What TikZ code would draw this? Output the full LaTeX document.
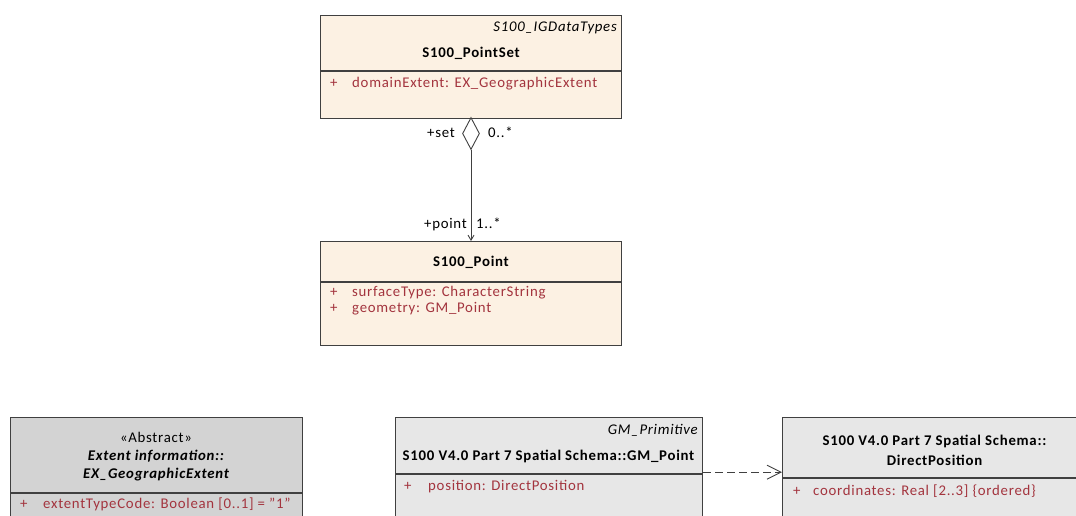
\documentclass[tikz,border=0pt]{standalone}
\usepackage{fontspec}
\setmainfont{Carlito}[LetterSpace=5.0]
\usepackage{xcolor}
\usetikzlibrary{arrows.meta, shapes.geometric, positioning}

\definecolor{cream}{RGB}{252,241,227}
\definecolor{lightgrey}{RGB}{231,231,231}
\definecolor{midgrey}{RGB}{211,211,211}
\definecolor{edge}{RGB}{64,64,64}
\definecolor{attrred}{RGB}{163,52,62}
\newcommand{\umlfont}{\fontsize{14.8pt}{19pt}\selectfont}

\begin{document}
\begin{tikzpicture}[x=1pt, y=-1pt,
  compart/.style={rectangle, draw=edge, line width=1.2pt, anchor=north west, inner sep=0pt},
  txt/.style={inner sep=0pt, font=\umlfont},
  attr/.style={txt, text=attrred, anchor=mid west},
  arrow/.style={-{Straight Barb[length=5pt, width=6pt]}, line width=0.9pt, draw=edge},
  dep/.style={-{Straight Barb[length=14pt, width=14pt]}, dashed, dash pattern=on 8pt off 4pt, line width=0.9pt, draw=edge}
]
\useasboundingbox (0,0) rectangle (1076,515);

% S100_PointSet
\node[compart, fill=cream, minimum width=301pt, minimum height=55pt] (psH) at (320,15) {};
\node[compart, fill=cream, minimum width=301pt, minimum height=47pt] (psB) at (psH.south west) {};
\node[txt, anchor=mid east] (psPkg)  at (617,29) {\itshape S100\_IGDataTypes};
\node[txt] (psName) at (471,53) {\bfseries S100\_PointSet};
\node[attr] (psPlus) at (330,85) {+};
\node[attr] (psAttr) at (352,85) {domainExtent: EX\_GeographicExtent};

% S100_Point
\node[compart, fill=cream, minimum width=301pt, minimum height=40pt] (ptH) at (320,241) {};
\node[compart, fill=cream, minimum width=301pt, minimum height=63pt] (ptB) at (ptH.south west) {};
\node[txt] (ptName) at (471,262) {\bfseries S100\_Point};
\node[attr] (ptPlusA) at (330,294) {+};
\node[attr] (ptAttrA) at (352,294) {surfaceType: CharacterString};
\node[attr] (ptPlusB) at (330,310) {+};
\node[attr] (ptAttrB) at (352,310) {geometry: GM\_Point};

% aggregation
\node[diamond, draw=edge, fill=white, line width=0.9pt, minimum width=17pt, minimum height=32pt, inner sep=0pt] (agg) at (471,133.5) {};
\node[txt, anchor=mid east] (setRole) at (455,135) {+set};
\node[txt, anchor=mid west] (setMult) at (488,135) {0..*};
\node[txt, anchor=mid east] (ptRole)  at (467,226) {+point};
\node[txt, anchor=mid west] (ptMult)  at (476,226) {1..*};
\draw[arrow] (agg.south) -- (agg.south |- ptH.north);

% EX_GeographicExtent
\node[compart, fill=midgrey, minimum width=292pt, minimum height=75pt] (exH) at (10,417) {};
\node[compart, fill=midgrey, minimum width=292pt, minimum height=60pt] (exB) at (exH.south west) {};
\node[txt] (exSt)   at (156,437) {«Abstract»};
\node[txt] (exPkg)  at (156,456) {\bfseries\itshape Extent information::};
\node[txt] (exName) at (156,475) {\bfseries\itshape EX\_GeographicExtent};
\node[attr] (exPlus) at (20,506) {+};
\node[attr] (exAttr) at (43,506) {extentTypeCode: Boolean [0..1] = "1"};

% GM_Point
\node[compart, fill=lightgrey, minimum width=307pt, minimum height=56pt] (gmH) at (395,417) {};
\node[compart, fill=lightgrey, minimum width=307pt, minimum height=80pt] (gmB) at (gmH.south west) {};
\node[txt, anchor=mid east] (gmPkg) at (698,432) {\itshape GM\_Primitive};
\node[txt] (gmName) at (548.5,456) {\bfseries S100 V4.0 Part 7 Spatial Schema::GM\_Point};
\node[attr] (gmPlus) at (404,488) {+};
\node[attr] (gmAttr) at (428,488) {position: DirectPosition};

% DirectPosition
\node[compart, fill=lightgrey, minimum width=305pt, minimum height=60pt] (dpH) at (782,417) {};
\node[compart, fill=lightgrey, minimum width=305pt, minimum height=80pt] (dpB) at (dpH.south west) {};
\node[txt] (dpPkg)  at (934.5,441) {\bfseries S100 V4.0 Part 7 Spatial Schema::};
\node[txt] (dpName) at (934.5,460) {\bfseries DirectPosition};
\node[attr] (dpPlus) at (793,493) {+};
\node[attr] (dpAttr) at (813,493) {coordinates: Real [2..3] \{ordered\}};

\draw[dep] ([yshift=2pt]gmH.south east) -- ([yshift=2pt]gmH.south east -| dpH.west);
\end{tikzpicture}
\end{document}
